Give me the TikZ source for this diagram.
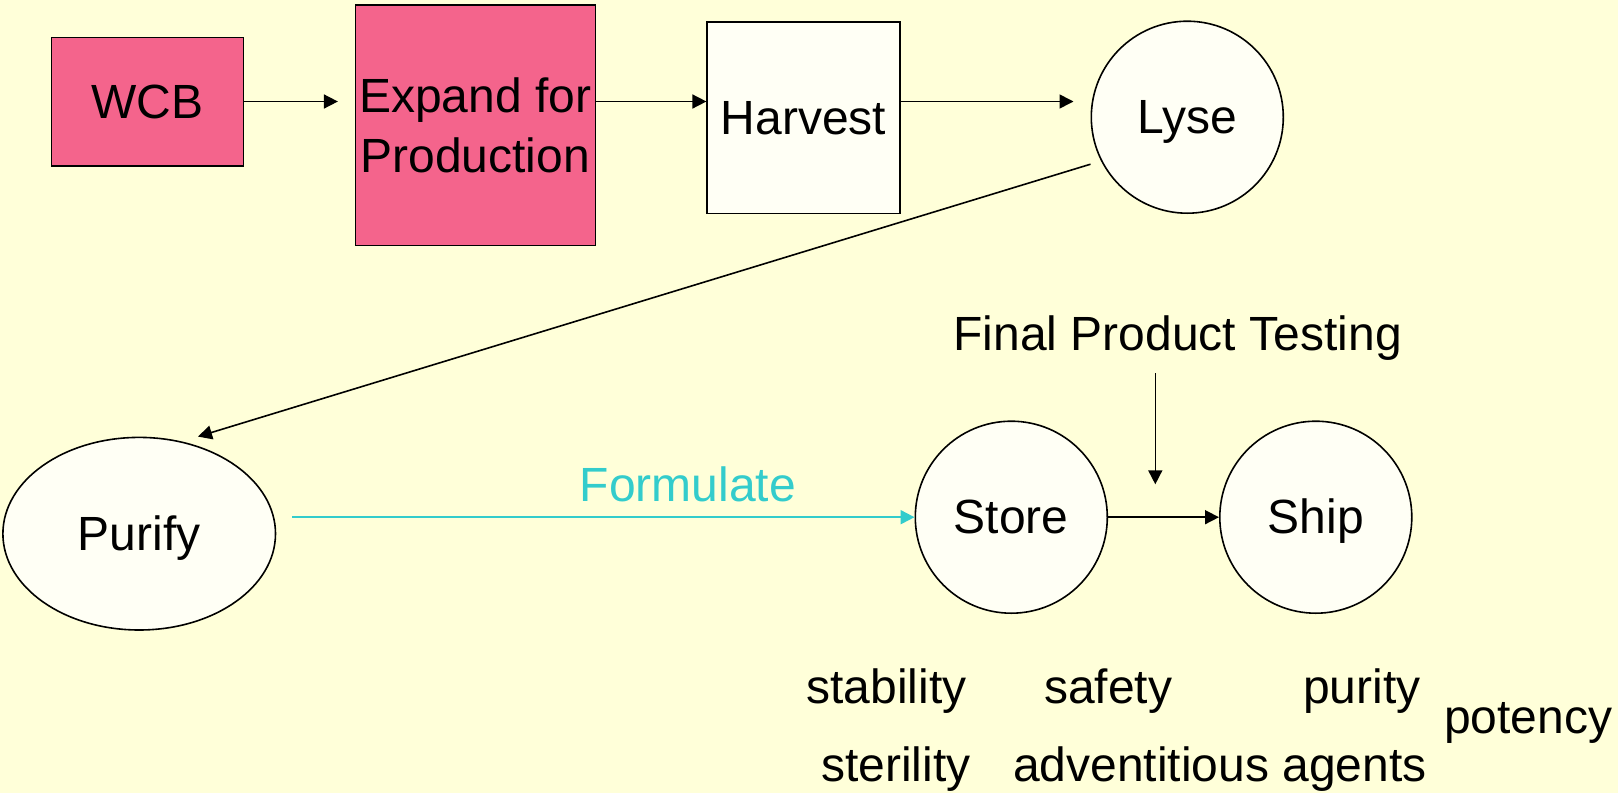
\documentclass[tikz,border=0pt]{standalone}
\usepackage{fontspec}
\setmainfont{Liberation Sans}
\usetikzlibrary{shapes.geometric,arrows.meta}
\definecolor{bgyellow}{RGB}{255,255,217}
\definecolor{boxpink}{RGB}{244,100,140}
\definecolor{nodefill}{RGB}{255,255,245}
\definecolor{formcyan}{RGB}{51,204,204}
\tikzset{
  lbl/.style={font=\fontsize{24}{30}\selectfont, inner sep=0pt},
  oneline/.style={text height=21.7pt, text depth=5.1pt},
  pinkbox/.style={draw=black, line width=0.8pt, fill=boxpink, rectangle, inner sep=2pt,
    font=\fontsize{24}{30}\selectfont, align=center},
  whitebox/.style={draw=black, line width=0.8pt, fill=nodefill, rectangle, inner sep=2pt,
    font=\fontsize{24}{30}\selectfont, align=center, oneline},
  roundnode/.style={draw=black, line width=0.8pt, fill=nodefill, ellipse, inner sep=0pt,
    font=\fontsize{24}{30}\selectfont, oneline},
  arr/.style={line width=0.8pt, -{Triangle[length=7pt,width=7pt]}},
  cyanarr/.style={draw=formcyan, line width=1pt, -{Triangle[length=7pt,width=7pt,fill=formcyan]}}
}
\begin{document}
\begin{tikzpicture}[x=0.5pt,y=-0.5pt]
\useasboundingbox (0,0) rectangle (1618,793);
\fill[bgyellow] (0,0) rectangle (1618,793);

\node[pinkbox, oneline, minimum width=95.9pt, minimum height=64.2pt] (wcb) at (147.5,101.5) {WCB};
\node[pinkbox, minimum width=120pt, minimum height=120.3pt, inner sep=0pt] (expand) at (475.3,125.3) {Expand for\\Production};
\node[whitebox, minimum width=96.3pt, minimum height=95.8pt] (harvest) at (803.5,117.5) {Harvest};
\node[roundnode, minimum width=96pt, minimum height=96pt] (lyse) at (1187.3,117.2) {Lyse};
\node[roundnode, minimum width=136.3pt, minimum height=96.3pt] (purify) at (139.2,533.7) {Purify};
\node[roundnode, minimum width=96pt, minimum height=96pt] (store) at (1011.3,517.2) {Store};
\node[roundnode, minimum width=96pt, minimum height=96pt] (ship) at (1315.8,517.2) {Ship};

\node[lbl, text=formcyan, anchor=base] (formulate) at (688,501.7) {Formulate};
\node[lbl, anchor=base] (fpt) at (1177.7,350) {Final Product Testing};

\node[lbl, anchor=base] (stability) at (886.5,703) {stability};
\node[lbl, anchor=base] (safety) at (1108.3,703) {safety};
\node[lbl, anchor=base] (purity) at (1361.7,703) {purity};
\node[lbl, anchor=base] (potency) at (1528.3,733) {potency};
\node[lbl, anchor=base] (sterility) at (895.8,781) {sterility};
\node[lbl, anchor=base] (advent) at (1220,781) {adventitious agents};

\coordinate (fptstart) at (1155.3,373.3);
\coordinate (fptend) at (1155.3,484.3);

\draw[arr, shorten >=8.3pt] (wcb.east) -- (expand.west |- wcb.east);
\draw[arr] (expand.east |- wcb.east) -- (harvest.west |- wcb.east);
\draw[arr, shorten >=8.5pt] (harvest.east |- wcb.east) -- (lyse.west |- wcb.east);
\draw[arr] ([yshift=-23.5pt]lyse.west) -- ([xshift=29.4pt]purify.north);
\draw[cyanarr, shorten <=8pt] (purify.east |- store.west) -- (store.west);
\draw[arr] (fptstart) -- (fptend);
\draw[arr] (store.east) -- (ship.west);
\end{tikzpicture}
\end{document}
